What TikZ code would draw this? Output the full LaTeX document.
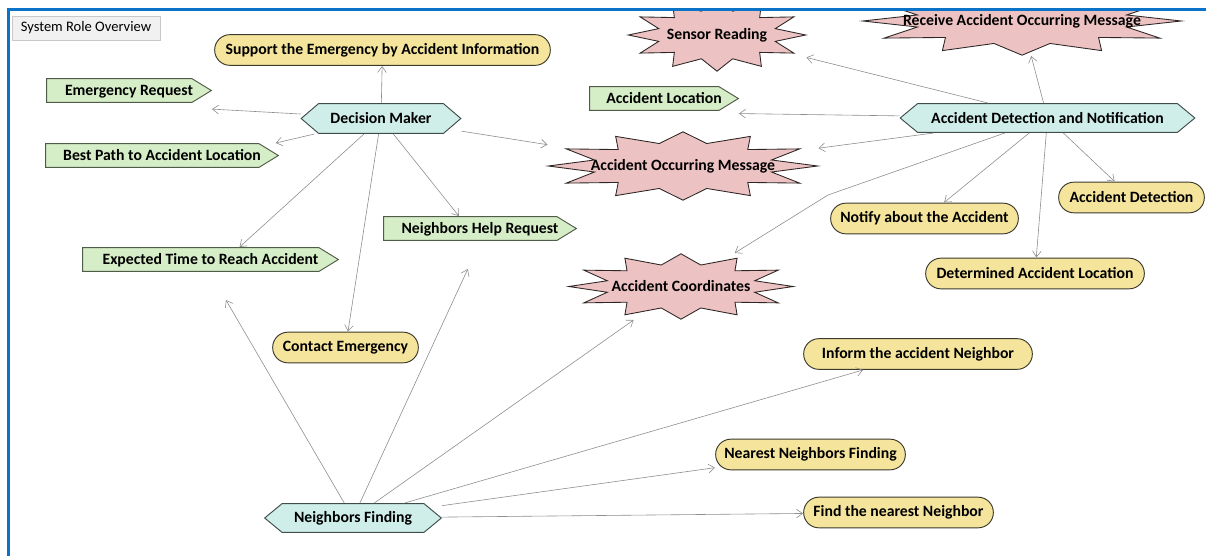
\documentclass[tikz,border=0pt]{standalone}
\usepackage{fontspec}
\setmainfont{Carlito}
\usetikzlibrary{arrows.meta,calc}

\definecolor{frameblue}{HTML}{0A73C8}
\definecolor{goalfill}{HTML}{F4E49C}
\definecolor{goalline}{HTML}{3C3A2C}
\definecolor{actfill}{HTML}{D6EEC8}
\definecolor{actline}{HTML}{4F5C48}
\definecolor{rolefill}{HTML}{CFEEEA}
\definecolor{roleline}{HTML}{3E4C4A}
\definecolor{percfill}{HTML}{EDC2C2}
\definecolor{percline}{HTML}{2E2626}
\definecolor{connline}{HTML}{8E8E8E}
\definecolor{titlefill}{HTML}{F1F1F1}
\definecolor{titleline}{HTML}{C9C9C9}

\newlength\pxu
\setlength\pxu{0.75pt}

\tikzset{
  basebox/.style={rectangle, inner sep=0pt, outer sep=0pt, align=center,
    font=\fontsize{11.8pt}{13pt}\selectfont\bfseries},
  % goal: rounded capsule filling the whole box
  goal/.style={basebox, minimum width=#1\pxu, minimum height=32\pxu,
    path picture={\draw[fill=goalfill, draw=goalline, line width=0.7pt, rounded corners=11.4pt]
      ([xshift=0.5pt,yshift=-0.5pt]path picture bounding box.north west) rectangle
      ([xshift=-0.5pt,yshift=0.5pt]path picture bounding box.south east);}},
  % role: hexagon filling the whole box
  role/.style 2 args={basebox, minimum width=#1\pxu, minimum height=#2\pxu,
    path picture={\draw[fill=rolefill, draw=roleline, line width=0.7pt]
      ([xshift=13.5pt,yshift=-0.5pt]path picture bounding box.north west) --
      ([xshift=-13.5pt,yshift=-0.5pt]path picture bounding box.north east) --
      ([xshift=-0.5pt]path picture bounding box.east) --
      ([xshift=-13.5pt,yshift=0.5pt]path picture bounding box.south east) --
      ([xshift=13.5pt,yshift=0.5pt]path picture bounding box.south west) --
      ([xshift=0.5pt]path picture bounding box.west) -- cycle;}},
  % action: arrow-tag shape in the upper part, free label room below
  action/.style={basebox, anchor=north, minimum width=#1\pxu,
    text height=13pt, text depth=26.75pt,
    path picture={\draw[fill=actfill, draw=actline, line width=0.7pt]
      ([xshift=0.5pt,yshift=-0.5pt]path picture bounding box.north west) --
      ([xshift=-15pt,yshift=-0.5pt]path picture bounding box.north east) --
      ([xshift=-0.5pt,yshift=-9.4pt]path picture bounding box.north east) --
      ([xshift=-15pt,yshift=-18.3pt]path picture bounding box.north east) --
      ([xshift=0.5pt,yshift=-18.3pt]path picture bounding box.north west) -- cycle;}},
  % percept: the box only; its burst outline is drawn by \burst
  percept/.style 2 args={basebox, minimum width=#1\pxu, minimum height=#2\pxu},
  burstline/.style={fill=percfill, draw=percline, line width=0.65pt, line join=miter},
  titlebox/.style={rectangle, draw=titleline, fill=titlefill, line width=0.6pt,
    minimum width=148\pxu, minimum height=24\pxu, inner sep=0pt,
    font=\fontsize{10.9pt}{12pt}\selectfont},
  conn/.style={draw=connline, line width=0.45pt,
    -{Straight Barb[length=4.5pt,width=6.5pt,line width=0.45pt]}},
  frame/.style={draw=frameblue, line width=3\pxu}
}

% twelve-point burst centred at (#1,#2), half-width #3, half-height #4 (px)
\newcommand\burst[4]{%
  \draw[burstline] (#1+#3-0.8,#2)
    \foreach \k in {1,...,23}{
      -- ({#1+cos(\k*15)*(1-0.32*mod(\k,2))*(#3-0.8)},
          {#2+sin(\k*15)*(1-0.32*mod(\k,2))*(#4-0.8)})
    } -- cycle;}

\begin{document}
\begin{tikzpicture}[x=0.75pt, y=-0.75pt]
\useasboundingbox (0,0) rectangle (1206,556);

\begin{scope}
\clip (10,11) rectangle (1206,556);

\node[titlebox] (title) at (86,28) {System Role Overview};

% percept bursts (drawn first, text placed on top by the nodes below)
\burst{717}{35}{89.5}{37}
\burst{1022}{21}{160}{35}
\burst{683}{166}{135.5}{35}
\burst{681}{286.5}{113}{33.5}

% percepts
\node[percept={179}{74}] (sr) at (717,35) {Sensor Reading};
\node[percept={320}{70}] (ram) at (1022,21) {Receive Accident Occurring Message};
\node[percept={271}{70}] (aom) at (683,166) {Accident Occurring Message};
\node[percept={226}{67}] (ac) at (681,286.5) {Accident Coordinates};

% roles
\node[role={161}{31}] (dm) at (381,118.5) {Decision Maker};
\node[role={296}{30}] (adn) at (1047.5,118) {Accident Detection and Notification};
\node[role={178}{30}] (nf) at (353,518) {Neighbors Finding};

% goals
\node[goal=337] (sup) at (382.5,50) {Support the Emergency by Accident Information};
\node[goal=147] (ce) at (345.5,347.5) {Contact Emergency};
\node[goal=147] (ad) at (1131.5,197.5) {Accident Detection};
\node[goal=189] (nota) at (924.5,218.5) {Notify about the Accident};
\node[goal=220] (dal) at (1035,273.5) {Determined Accident Location};
\node[goal=230] (ian) at (918,354) {Inform the accident Neighbor};
\node[goal=191] (nnf) at (810.5,454.5) {Nearest Neighbors Finding};
\node[goal=191] (fnn) at (898.5,512.5) {Find the nearest Neighbor};

% actions
\node[action=166] (er) at (129,78) {Emergency Request};
\node[action=234] (bp) at (162,143) {Best Path to Accident Location};
\node[action=257] (et) at (210.5,247) {Expected Time to Reach Accident};
\node[action=194] (nhr) at (480,216) {Neighbors Help Request};
\node[action=150] (al) at (664,86) {Accident Location};

% links of Decision Maker
\draw[conn] (dm) -- (sup);
\draw[conn] (dm) -- (er);
\draw[conn] (dm) -- (bp);
\draw[conn] (dm) -- (aom);
\draw[conn] (dm) -- (et);
\draw[conn] (dm) -- (ce);
\draw[conn] (dm) -- (nhr);

% links of Accident Detection and Notification
\coordinate (acbend) at (828,195);
\draw[conn] (adn) -- (sr);
\draw[conn] (adn) -- (ram);
\draw[conn] (adn) -- (al);
\draw[conn] (adn) -- (aom);
\draw[conn] (adn) -- (acbend) -- (ac);
\draw[conn] (adn) -- (nota);
\draw[conn] (adn) -- (dal);
\draw[conn] (adn) -- (ad);

% links of Neighbors Finding
\draw[conn] (nf) -- (et);
\draw[conn] (nf) -- (nhr);
\draw[conn] (nf) -- (ac);
\draw[conn] (nf) -- (ian);
\draw[conn] (nf) -- (nnf);
\draw[conn] (nf) -- (fnn);
\end{scope}

% window frame
\draw[frame, line cap=rect] (1206,9.5) -- (8.5,9.5) -- (8.5,556);
\end{tikzpicture}
\end{document}
